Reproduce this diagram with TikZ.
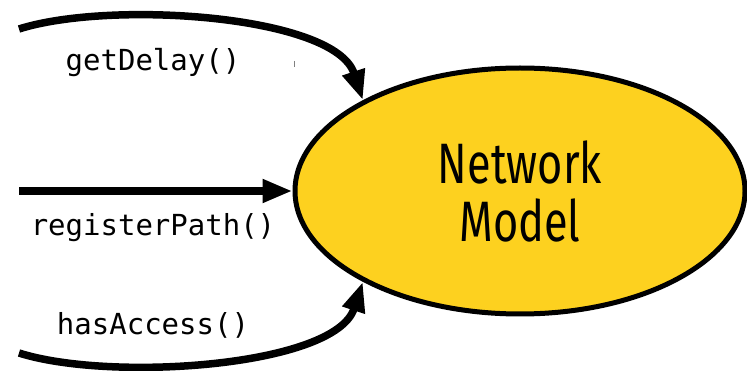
\documentclass[tikz,border=0pt]{standalone}
\usepackage{fontspec}
\usetikzlibrary{shapes.geometric,arrows.meta}
\newfontfamily\modelfont[FakeStretch=0.76]{Fira Sans}
\newfontfamily\callfont{DejaVu Sans Mono}
\definecolor{modelyellow}{RGB}{253,209,31}

\begin{document}
\begin{tikzpicture}[x=1pt,y=-1pt,
    model/.style={ellipse, draw, line width=5pt, fill=modelyellow,
      minimum width=450pt, minimum height=246pt, align=center,
      font=\fontsize{57}{58}\modelfont\selectfont},
    call/.style={line width=7.5pt, -{Triangle[length=30pt,width=22pt]}},
    calltext/.style={font=\fontsize{29}{32}\callfont\selectfont}]
  \useasboundingbox (0,0) rectangle (747,371);

  \node[model] (net) at (520,191) {Network\\Model};

  % the three calls into the model
  \coordinate (delaystart) at (19,29);
  \coordinate (pathstart) at (19,191);
  \coordinate (accessstart) at (19,353);
  \draw[call] (delaystart) .. controls (110,0) and (335,15) .. (net.150);
  \draw[call] (pathstart) -- (net.west);
  \draw[call] (accessstart) .. controls (110,382) and (335,367) .. (net.210);

  \node[calltext] (delay) at (153,63) {getDelay()};
  \node[calltext] (register) at (153,228) {registerPath()};
  \node[calltext] (access) at (153,325) {hasAccess()};

  \draw[gray, line width=0.8pt] (294,61) -- (294,67);
\end{tikzpicture}
\end{document}
